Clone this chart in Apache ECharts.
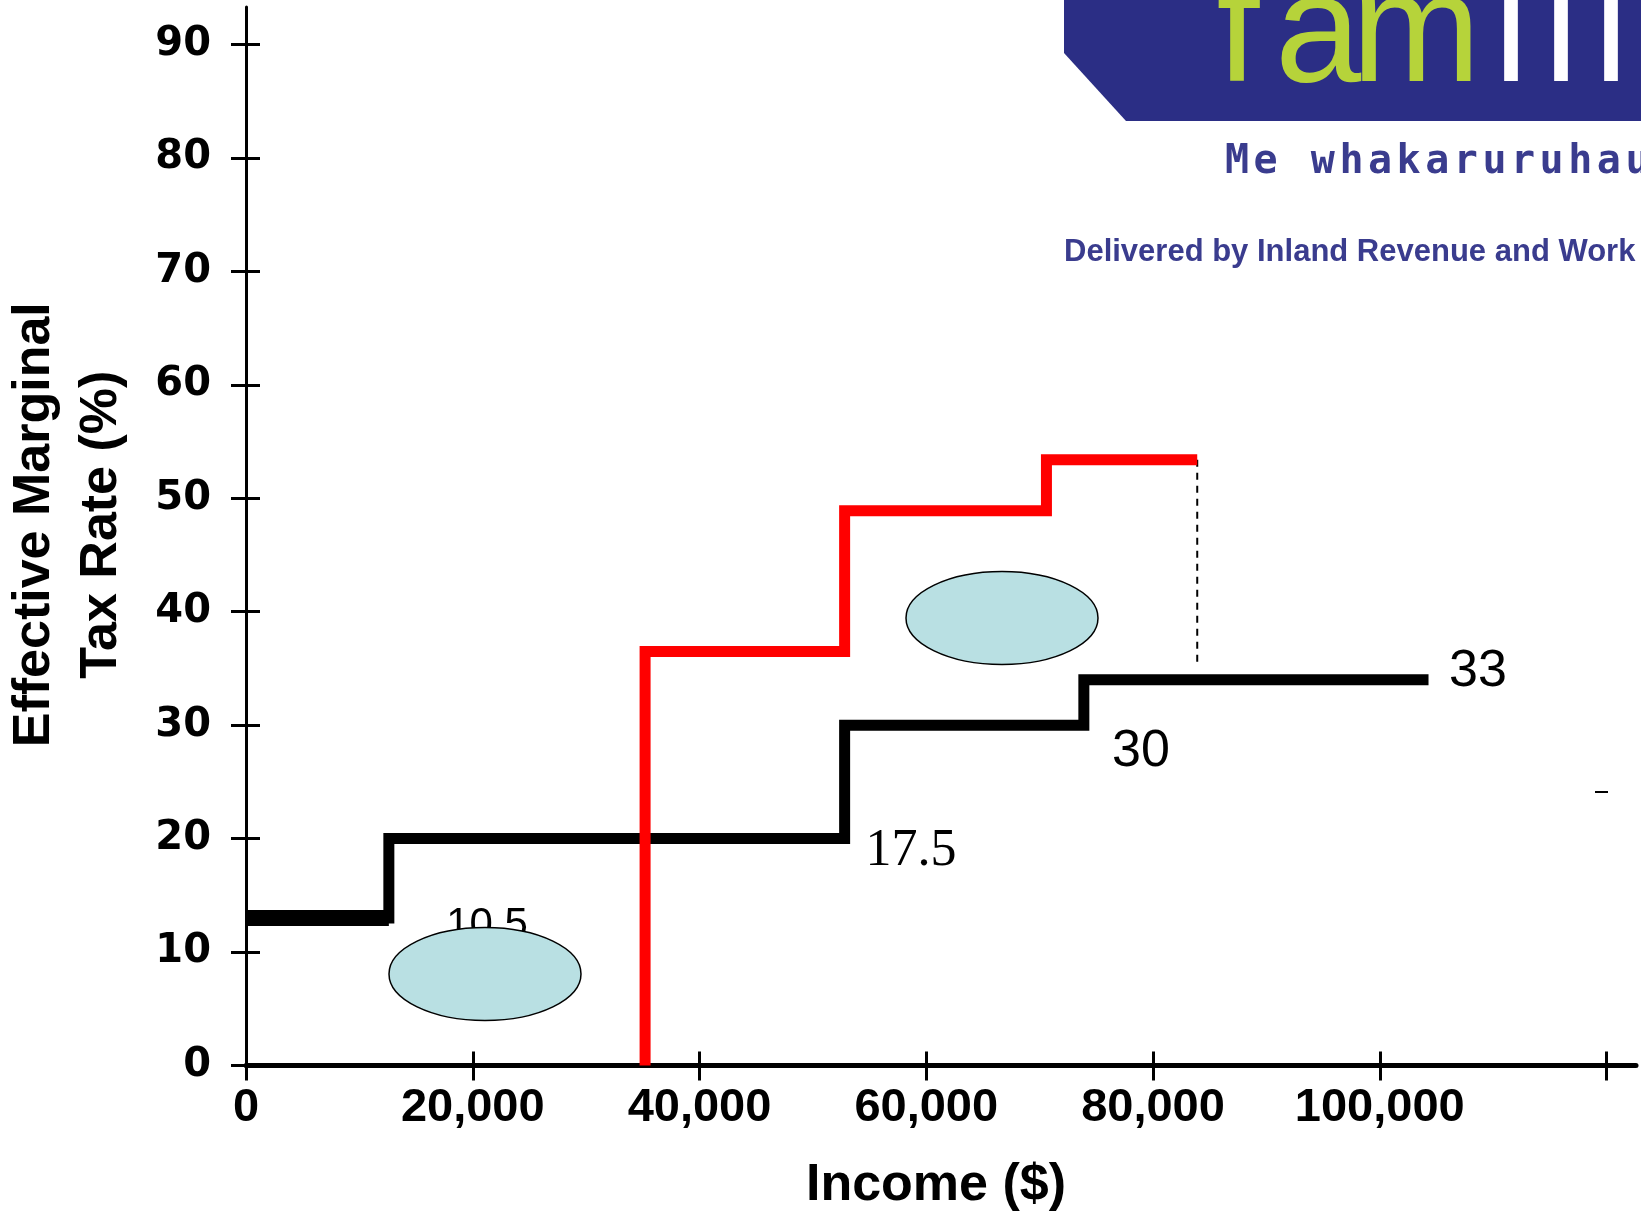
<!DOCTYPE html>
<html>
<head>
<meta charset="utf-8">
<script src="https://cdn.jsdelivr.net/npm/echarts@6/dist/echarts.min.js"></script>
<style>
  html, body { margin: 0; padding: 0; background: #ffffff; }
  #chart { width: 1641px; height: 1212px; }
</style>
</head>
<body>
<div id="chart"></div>
<script>
// ---------- data ----------
const blackIncome = [0, 12600, 52800, 73900, 104300];
const blackRate   = [13, 20, 30, 34, 34];
const redIncome   = [35200, 52800, 70600, 83900];
const redRate     = [0, 36.5, 48.9, 53.4];
const dashIncome  = [83900, 83900];
const dashRate    = [53.4, 35.3];
const xTickValues  = [0, 20000, 40000, 60000, 80000, 100000, 120000];
const xLabelValues = [0, 20000, 40000, 60000, 80000, 100000];
const yTickValues  = [0, 10, 20, 30, 40, 50, 60, 70, 80, 90];
const annotationTexts = ['10.5', '17.5', '30', '33'];

const zip = (xs, ys) => xs.map((x, i) => [x, ys[i]]);

const chart = echarts.init(document.getElementById('chart'), null, { renderer: 'canvas' });

const X_MAX = 122600, Y_MAX = 93.3;
const fmtX = v => v === 0 ? '0' : v.toLocaleString('en-US');

const navy = '#2b2e85';
const green = '#b6d33a';

const graphics = [];
// logo banner
graphics.push({ type: 'polygon', z: 1, shape: { points: [[1064, 0], [1641, 0], [1641, 121], [1126, 121], [1064, 53]] }, style: { fill: navy } });
const logoFont = '155px "Liberation Sans Narrow", "Liberation Sans", sans-serif';
const famChars = [['f', 1238], ['a', 1318], ['m', 1416]];
famChars.forEach(([c, x]) => graphics.push({ type: 'text', z: 2, x: x, y: 116,
  style: { text: c, font: logoFont, fill: green, align: 'center', verticalAlign: 'bottom' } }));
const whiteChars = [['\u0131', 1511], ['l', 1561], ['\u0131', 1611]];
whiteChars.forEach(([c, x]) => graphics.push({ type: 'text', z: 2, x: x, y: 116,
  style: { text: c, font: logoFont, fill: '#ffffff', align: 'center', verticalAlign: 'bottom' } }));
// tagline, evenly spaced
const tagline = 'Me whakaruruhau';
for (let i = 0; i < tagline.length; i++) {
  if (tagline[i] === ' ') continue;
  graphics.push({ type: 'text', z: 2, x: 1225 + i * 28.6, y: 163,
    style: { text: tagline[i], font: 'bold 40px "DejaVu Sans Mono", monospace', fill: '#3a3c8e', align: 'left', verticalAlign: 'middle' } });
}
graphics.push({ type: 'text', z: 2, x: 1064, y: 252,
  style: { text: 'Delivered by Inland Revenue and Work and Income', font: 'bold 31px "Liberation Sans", Arial, sans-serif', fill: '#3a3c8e', align: 'left', verticalAlign: 'middle' } });

// annotations
graphics.push({ type: 'text', z: 5, x: 487, y: 925, style: { text: annotationTexts[0], font: '42px "Liberation Sans", Arial, sans-serif', fill: '#000', align: 'center', verticalAlign: 'middle' } });
graphics.push({ type: 'ellipse', z: 6, shape: { cx: 485, cy: 974, rx: 96, ry: 46.5 }, style: { fill: '#b9e0e3', stroke: '#000', lineWidth: 1.5 } });
graphics.push({ type: 'ellipse', z: 6, shape: { cx: 1002, cy: 618, rx: 96, ry: 46.5 }, style: { fill: '#b9e0e3', stroke: '#000', lineWidth: 1.5 } });
graphics.push({ type: 'text', z: 5, x: 911, y: 851, style: { text: annotationTexts[1], font: '52px "Liberation Serif", "Times New Roman", serif', fill: '#000', align: 'center', verticalAlign: 'middle' } });
graphics.push({ type: 'text', z: 5, x: 1141, y: 752, style: { text: annotationTexts[2], font: '52px "Liberation Sans", Arial, sans-serif', fill: '#000', align: 'center', verticalAlign: 'middle' } });
graphics.push({ type: 'text', z: 5, x: 1478, y: 672, style: { text: annotationTexts[3], font: '52px "Liberation Sans", Arial, sans-serif', fill: '#000', align: 'center', verticalAlign: 'middle' } });
graphics.push({ type: 'line', z: 5, shape: { x1: 1595, y1: 792, x2: 1608, y2: 792 }, style: { stroke: '#000', lineWidth: 2 } });

const option = {
  animation: false,
  backgroundColor: '#ffffff',
  grid: { left: 246, right: 5, top: 7, bottom: 146.5, containLabel: false, outerBoundsMode: 'none' },
  xAxis: [
    {
      type: 'value', min: 0, max: X_MAX, position: 'bottom',
      axisLine: { show: true, onZero: false, lineStyle: { color: '#000', width: 5 } },
      axisTick: { show: true, customValues: xTickValues, length: 15, inside: false, lineStyle: { color: '#000', width: 3 } },
      axisLabel: { show: true, customValues: xLabelValues, formatter: fmtX, margin: 19, color: '#000',
        fontFamily: '"Liberation Sans", Arial, sans-serif', fontWeight: 'bold', fontSize: 47, lineHeight: 47 },
      splitLine: { show: false },
      name: 'Income ($)', nameLocation: 'middle', nameGap: 94,
      nameTextStyle: { color: '#000', fontFamily: '"Liberation Sans", Arial, sans-serif', fontWeight: 'bold', fontSize: 52, lineHeight: 52, padding: [0, 10, 0, 0] }
    },
    {
      type: 'value', min: 0, max: X_MAX, position: 'bottom',
      axisLine: { show: false, onZero: false },
      axisTick: { show: true, customValues: xTickValues, length: 14, inside: true, lineStyle: { color: '#000', width: 3 } },
      axisLabel: { show: false },
      splitLine: { show: false }
    }
  ],
  yAxis: [
    {
      type: 'value', min: 0, max: Y_MAX, position: 'left',
      axisLine: { show: true, onZero: false, lineStyle: { color: '#000', width: 3 } },
      axisTick: { show: true, customValues: yTickValues, length: 15, inside: false, lineStyle: { color: '#000', width: 3 } },
      axisLabel: { show: true, customValues: yTickValues, margin: 35, color: '#000', padding: [6, 0, 0, 0],
        fontFamily: '"DejaVu Sans", sans-serif', fontWeight: 'bold', fontSize: 40 },
      splitLine: { show: false },
      name: 'Effective Marginal\nTax Rate (%)', nameLocation: 'middle', nameGap: 111, nameRotate: 90,
      nameTextStyle: { color: '#000', fontFamily: '"Liberation Sans", Arial, sans-serif', fontWeight: 'bold', fontSize: 52, lineHeight: 67, padding: [0, 0, 0, 23] }
    },
    {
      type: 'value', min: 0, max: Y_MAX, position: 'left',
      axisLine: { show: false, onZero: false },
      axisTick: { show: true, customValues: yTickValues, length: 14, inside: true, lineStyle: { color: '#000', width: 3 } },
      axisLabel: { show: false },
      splitLine: { show: false }
    }
  ],
  series: [
    {
      name: 'Black', type: 'line', step: 'end', xAxisIndex: 0, yAxisIndex: 0,
      data: zip(blackIncome, blackRate), symbol: 'none', z: 3,
      lineStyle: { color: '#000', width: 11, cap: 'butt', join: 'miter' }
    },
    {
      name: 'BlackFirst', type: 'line', xAxisIndex: 0, yAxisIndex: 0,
      data: [[blackIncome[0], blackRate[0]], [blackIncome[1], blackRate[0]]], symbol: 'none', z: 3,
      lineStyle: { color: '#000', width: 16, cap: 'butt' }
    },
    {
      name: 'Red', type: 'line', step: 'start', xAxisIndex: 0, yAxisIndex: 0,
      data: zip(redIncome, redRate), symbol: 'none', z: 4,
      lineStyle: { color: '#ff0000', width: 11, cap: 'butt', join: 'miter' }
    },
    {
      name: 'Dashed', type: 'line', xAxisIndex: 0, yAxisIndex: 0,
      data: zip(dashIncome, dashRate), symbol: 'none', z: 3,
      lineStyle: { color: '#000', width: 2, type: [7, 6] }
    }
  ],
  graphic: graphics
};

chart.setOption(option);
</script>
</body>
</html>
